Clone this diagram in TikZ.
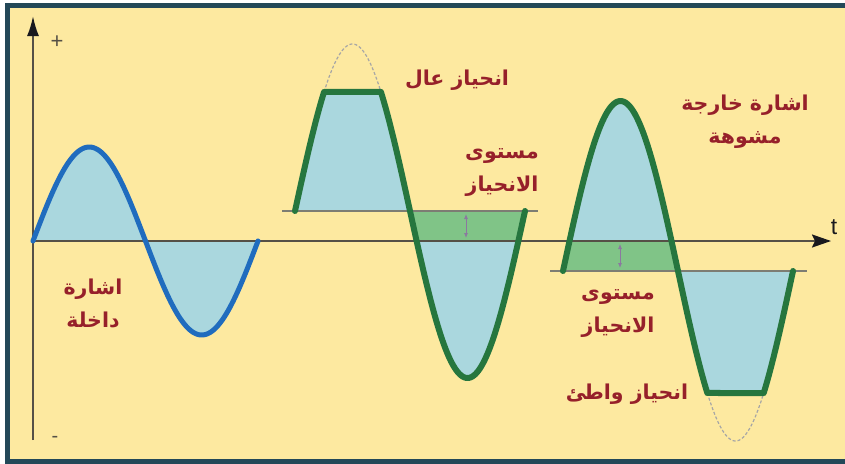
\documentclass[tikz,border=0pt]{standalone}
\usepackage{fontspec}
\setmainfont{Liberation Sans}
\newfontfamily\arabicfont[Script=Arabic]{DejaVu Sans}
\TeXXeTstate=1
\usetikzlibrary{arrows.meta}
\definecolor{bg}{RGB}{253,233,160}
\definecolor{framec}{RGB}{35,72,88}
\definecolor{fillblue}{RGB}{170,215,222}
\definecolor{bandgreen}{RGB}{128,196,135}
\definecolor{curvegreen}{RGB}{38,118,62}
\definecolor{curveblue}{RGB}{32,108,190}
\definecolor{axisc}{RGB}{85,80,70}
\definecolor{biasc}{RGB}{125,125,115}
\definecolor{txtred}{RGB}{150,32,42}
\definecolor{arrc}{RGB}{140,120,160}
\definecolor{tipc}{RGB}{25,25,30}
\tikzset{
  arlabel/.style={text=txtred, font=\arabicfont\bfseries\fontsize{20.5}{33}\selectfont, align=center, inner sep=0pt},
  greencurve/.style={curvegreen, line width=6pt, line join=round, line cap=round},
  bluecurve/.style={curveblue, line width=5pt, line join=round, line cap=round},
  ghost/.style={gray!70, dashed, line width=1.2pt, dash pattern=on 3pt off 2pt},
  biasline/.style={biasc, line width=1.5pt},
  axisline/.style={axisc, line width=2pt},
  levelarrow/.style={arrc, line width=0.8pt, {Latex[length=5pt,width=4pt]}-{Latex[length=5pt,width=4pt]}},
}
\begin{document}
\begin{tikzpicture}[x=1pt,y=-1pt]
\useasboundingbox (0,0) rectangle (845,463);
\fill[white] (0,0) rectangle (845,463);
\fill[bg] (7,5) rectangle (852,461);
\draw[framec, line width=5pt] (7.5,5) rectangle (852,461);

% ---- input wave fill
\fill[fillblue] plot[domain=0:225,samples=120] ({33+\x},{241-94*sin(\x*1.6)}) -- cycle;

% ---- wave 1 (high bias)
\fill[fillblue] plot[domain=0:45.45,samples=40] ({295+0.638889*\x},{211-167*sin(\x)})
  -- plot[domain=134.55:360,samples=120] ({295+0.638889*\x},{211-167*sin(\x)}) -- cycle;
\begin{scope}
  \clip plot[domain=180:360,samples=100] ({295+0.638889*\x},{211-167*sin(\x)}) -- cycle;
  \fill[bandgreen] (395,211) rectangle (535,241);
\end{scope}

% ---- wave 2 (low bias)
\fill[fillblue] plot[domain=0:225.86,samples=120] ({563+0.638889*\x},{271-170*sin(\x)})
  -- plot[domain=314.14:360,samples=40] ({563+0.638889*\x},{271-170*sin(\x)}) -- cycle;
\begin{scope}
  \clip plot[domain=0:180,samples=100] ({563+0.638889*\x},{271-170*sin(\x)}) -- cycle;
  \fill[bandgreen] (555,241) rectangle (700,271);
\end{scope}

% ---- bias levels
\coordinate (b1l) at (282,211); \coordinate (b1r) at (538,211);
\coordinate (b2l) at (550,271); \coordinate (b2r) at (807,271);
\draw[biasline] (b1l) -- (b1r);
\draw[biasline] (b2l) -- (b2r);

% ---- axes
\coordinate (o) at (33,241);
\coordinate (ybot) at (33,440);
\coordinate (ytop) at (33,16);
\coordinate (xend) at (831,241);
\draw[axisline, -{Latex[length=20pt,width=12pt,color=tipc]}] (ybot) -- (ytop);
\draw[axisline, -{Stealth[length=19pt,width=13pt,inset=3pt,color=tipc]}] (o) -- (xend);

% ---- ghost (clipped) parts
\draw[ghost] plot[domain=45.45:134.55,samples=40] ({295+0.638889*\x},{211-167*sin(\x)});
\draw[ghost] plot[domain=225.86:314.14,samples=40] ({563+0.638889*\x},{271-170*sin(\x)});

% ---- curves
\draw[bluecurve] plot[domain=0:225,samples=120] ({33+\x},{241-94*sin(\x*1.6)});
\draw[greencurve] plot[domain=0:45.45,samples=40] ({295+0.638889*\x},{211-167*sin(\x)})
  -- plot[domain=134.55:360,samples=120] ({295+0.638889*\x},{211-167*sin(\x)});
\draw[greencurve] plot[domain=0:225.86,samples=120] ({563+0.638889*\x},{271-170*sin(\x)})
  -- plot[domain=314.14:360,samples=40] ({563+0.638889*\x},{271-170*sin(\x)});

% ---- level arrows
\coordinate (a1t) at (466,214); \coordinate (a1b) at (466,238);
\coordinate (a2t) at (620,244); \coordinate (a2b) at (620,268);
\draw[levelarrow] (a1t) -- (a1b);
\draw[levelarrow] (a2t) -- (a2b);

% ---- axis labels
\node[text=axisc, font=\fontsize{22}{22}\selectfont] (plus) at (57,42) {+};
\node[text=axisc, font=\fontsize{20}{20}\selectfont] (minus) at (55,439) {-};
\node[text=tipc, font=\fontsize{23}{23}\selectfont] (tlab) at (834,227) {t};

% ---- arabic labels
\node[arlabel] (inlab) at (93,303) {\beginR اشارة\endR\\\beginR داخلة\endR};
\node[arlabel] (highlab) at (457,80) {\beginR انحياز عال\endR};
\node[arlabel] (lev1) at (502,172) {\beginR مستوى\endR\\\beginR الانحياز\endR};
\node[arlabel] (outlab) at (745,122) {\beginR اشارة خارجة\endR\\\beginR مشوهة\endR};
\node[arlabel] (lev2) at (618,313) {\beginR مستوى\endR\\\beginR الانحياز\endR};
\node[arlabel] (lowlab) at (627,394) {\beginR انحياز واطئ\endR};
\end{tikzpicture}
\end{document}
